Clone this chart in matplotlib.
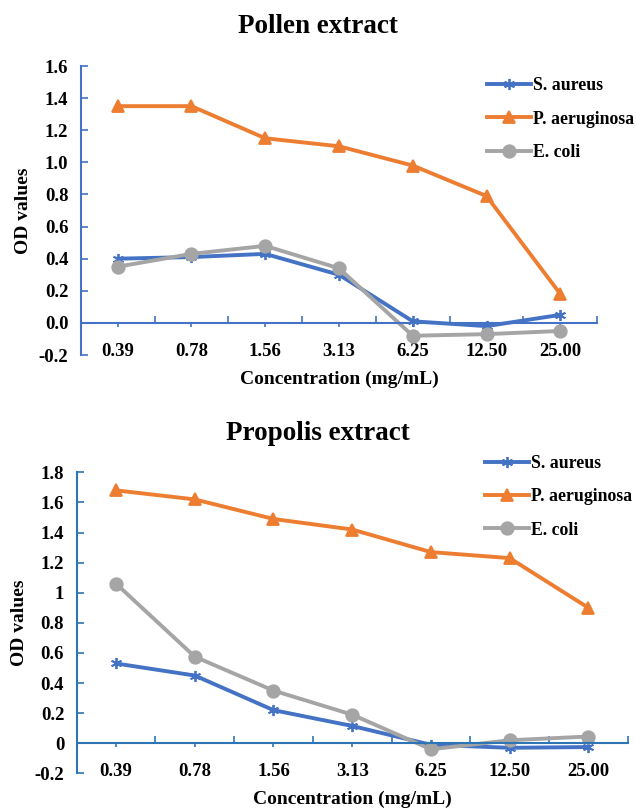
import matplotlib
matplotlib.use('Agg')
import matplotlib.pyplot as plt
import numpy as np
from matplotlib.ticker import FixedLocator

plt.rcParams['font.family'] = ['Liberation Serif', 'DejaVu Serif']
plt.rcParams['font.weight'] = 'bold'

# data
concentrations = ['0.39', '0.78', '1.56', '3.13', '6.25', '12.50', '25.00']
series_names = ['S. aureus', 'P. aeruginosa', 'E. coli']

pollen_s_aureus = [0.40, 0.41, 0.43, 0.30, 0.01, -0.02, 0.05]
pollen_p_aeruginosa = [1.35, 1.35, 1.15, 1.10, 0.98, 0.79, 0.18]
pollen_e_coli = [0.35, 0.43, 0.48, 0.34, -0.08, -0.07, -0.05]

propolis_s_aureus = [0.53, 0.45, 0.22, 0.115, -0.01, -0.03, -0.025]
propolis_p_aeruginosa = [1.68, 1.62, 1.49, 1.42, 1.27, 1.23, 0.90]
propolis_e_coli = [1.06, 0.575, 0.35, 0.19, -0.04, 0.02, 0.045]

pollen_yticks = [-0.2, 0.0, 0.2, 0.4, 0.6, 0.8, 1.0, 1.2, 1.4, 1.6]
pollen_ylabels = ['-0.2', '0.0', '0.2', '0.4', '0.6', '0.8', '1.0', '1.2', '1.4', '1.6']
propolis_yticks = [-0.2, 0, 0.2, 0.4, 0.6, 0.8, 1.0, 1.2, 1.4, 1.6, 1.8]
propolis_ylabels = ['-0.2', '0', '0.2', '0.4', '0.6', '0.8', '1', '1.2', '1.4', '1.6', '1.8']

colors = ['#4472C4', '#ED7D31', '#A5A5A5']
markers = [(6, 2, 0), '^', 'o']
msizes = [8, 9, 9]


def draw_panel(ax, title, ys, yticks, ylabels, axis_color, legend_xy, title_y, xlab_y, ylab_x):
	x = np.arange(len(concentrations))
	for i in range(3):
		ax.plot(x, ys[i], color=colors[i], lw=2.8, marker=markers[i],
			ms=msizes[i], mec=colors[i], mfc=colors[i], mew=1.3,
			label=series_names[i])

	ax.set_xlim(-0.5, len(concentrations) - 0.5)
	ax.set_ylim(yticks[0], yticks[-1])
	for s in ['top', 'right']:
		ax.spines[s].set_visible(False)
	ax.spines['bottom'].set_position(('data', 0))
	for s in ['bottom', 'left']:
		ax.spines[s].set_color(axis_color)
		ax.spines[s].set_linewidth(1.5)

	ax.set_xticks(x)
	ax.set_xticklabels(concentrations, fontsize=13.5, fontweight='bold')
	ax.xaxis.set_minor_locator(FixedLocator(np.arange(-0.5, len(concentrations), 1.0)))
	ax.tick_params(axis='x', which='major', direction='out', length=3,
		color=axis_color, width=1.2, pad=11.5)
	ax.tick_params(axis='x', which='minor', direction='in', length=5,
		color=axis_color, width=1.2)

	ax.set_yticks(yticks)
	ax.set_yticklabels(ylabels, fontsize=13.5, fontweight='bold')
	ax.tick_params(axis='y', direction='in', length=5, color=axis_color, width=1.2, pad=9)

	ax.set_ylabel('OD values', fontsize=14, fontweight='bold')
	ax.set_xlabel('Concentration (mg/mL)', fontsize=14, fontweight='bold')
	ax.xaxis.set_label_coords(0.5, xlab_y)
	ax.yaxis.set_label_coords(ylab_x, 0.5)

	fig.text(0.5, title_y, title, ha='center', va='center', fontsize=19.5, fontweight='bold')

	ax.legend(loc='upper left', bbox_to_anchor=legend_xy, bbox_transform=fig.transFigure,
		frameon=False, borderpad=0, borderaxespad=0,
		handlelength=2.45, handletextpad=0.12, labelspacing=0.92,
		prop={'weight': 'bold', 'size': 12.8})


fig = plt.figure(figsize=(6.36, 8.10), dpi=100)

ax1 = fig.add_axes([0.127, 0.5617, 0.812, 0.3568])
draw_panel(ax1, 'Pollen extract',
	[pollen_s_aureus, pollen_p_aeruginosa, pollen_e_coli],
	pollen_yticks, pollen_ylabels, '#4472C4', (0.7657, 0.9045), 0.967, -0.055, -0.095)

ax2 = fig.add_axes([0.1206, 0.0452, 0.8664, 0.3717])
draw_panel(ax2, 'Propolis extract',
	[propolis_s_aureus, propolis_p_aeruginosa, propolis_e_coli],
	propolis_yticks, propolis_ylabels, '#2E75B6', (0.7626, 0.4385), 0.465, -0.058, -0.088)

fig.savefig('out.png', dpi=100)
plt.close()
